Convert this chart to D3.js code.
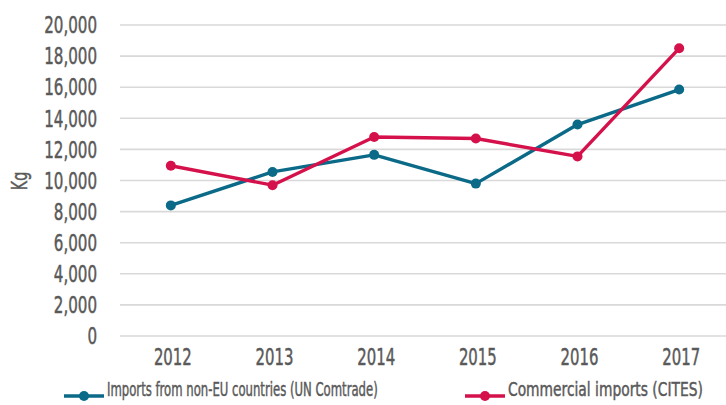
<!DOCTYPE html>
<html>
<head>
<meta charset="utf-8">
<script src="https://cdn.jsdelivr.net/npm/d3@7"></script>
<style>
  body { margin: 0; background: #fff; }
  text { font-family: "DejaVu Sans Condensed", "DejaVu Sans", sans-serif; fill: #595959; stroke: #595959; stroke-width: 0.45px; }
</style>
</head>
<body>
<div id="chart"></div>
<script>
  const years = ['2012', '2013', '2014', '2015', '2016', '2017'];
  const comtrade = [8400, 10550, 11650, 9800, 13600, 15850];
  const cites = [10950, 9700, 12800, 12700, 11550, 18500];
  const yTicks = [0, 2000, 4000, 6000, 8000, 10000, 12000, 14000, 16000, 18000, 20000];
  const seriesNames = ['Imports from non-EU countries (UN Comtrade)', 'Commercial imports (CITES)'];
  const seriesColors = ['#0b6a88', '#d5114b'];

  const width = 726, height = 405;
  const svg = d3.select('#chart').append('svg')
    .attr('width', width).attr('height', height);

  const x = d3.scaleBand().domain(years).range([120, 730]);
  const y = d3.scaleLinear().domain([0, 20000]).range([336, 25]);

  // condensed look: move x/y into a transform and squeeze horizontally
  function squeeze(sel, f) {
    sel.each(function() {
      const t = d3.select(this);
      const px = +t.attr('x') || 0, py = +t.attr('y') || 0;
      const pre = t.attr('transform') || '';
      t.attr('x', 0).attr('y', 0)
        .attr('transform', `${pre} translate(${px},${py}) scale(${f},1)`);
    });
  }

  // gridlines
  svg.append('g').selectAll('line').data(yTicks).join('line')
    .attr('x1', 120).attr('x2', width)
    .attr('y1', d => y(d)).attr('y2', d => y(d))
    .attr('stroke', '#d9d9d9').attr('stroke-width', 1.6);

  // y axis labels
  const fmt = d3.format(',');
  svg.append('g').selectAll('text').data(yTicks).join('text')
    .attr('x', 97).attr('y', d => y(d))
    .attr('dy', '0.36em')
    .attr('text-anchor', 'end')
    .attr('font-size', 23)
    .text(d => fmt(d))
    .call(squeeze, 0.73);

  // x axis labels
  svg.append('g').selectAll('text').data(years).join('text')
    .attr('x', d => x(d) + x.bandwidth() / 2 + 2).attr('y', 357)
    .attr('dy', '0.36em')
    .attr('text-anchor', 'middle')
    .attr('font-size', 23)
    .text(d => d)
    .call(squeeze, 0.72);

  svg.append('text')
    .attr('transform', 'translate(19,181) rotate(-90)')
    .attr('dy', '0.36em')
    .attr('text-anchor', 'middle')
    .attr('font-size', 21)
    .text('Kg')
    .call(squeeze, 0.75);

  const line = d3.line()
    .x((d, i) => x(years[i]) + x.bandwidth() / 2)
    .y(d => y(d));

  [comtrade, cites].forEach((vals, k) => {
    const g = svg.append('g');
    g.append('path').datum(vals)
      .attr('d', line)
      .attr('fill', 'none')
      .attr('stroke', seriesColors[k])
      .attr('stroke-width', 3.4)
      .attr('stroke-linejoin', 'round');
    g.selectAll('circle').data(vals).join('circle')
      .attr('cx', (d, i) => x(years[i]) + x.bandwidth() / 2)
      .attr('cy', d => y(d))
      .attr('r', 5)
      .attr('fill', seriesColors[k]);
  });

  // legend
  const legendX = [64, 465];
  const legendW = [271, 195];
  seriesNames.forEach((name, k) => {
    const lg = svg.append('g').attr('transform', `translate(${legendX[k]},396)`);
    lg.append('line').attr('x1', 0).attr('x2', 40)
      .attr('stroke', seriesColors[k]).attr('stroke-width', 3.4);
    lg.append('circle').attr('cx', 20).attr('r', 5).attr('fill', seriesColors[k]);
    const t = lg.append('text').attr('x', 43).attr('y', 0)
      .attr('font-size', 19.5)
      .text(name);
    t.call(squeeze, legendW[k] / t.node().getComputedTextLength());
  });
</script>
</body>
</html>
